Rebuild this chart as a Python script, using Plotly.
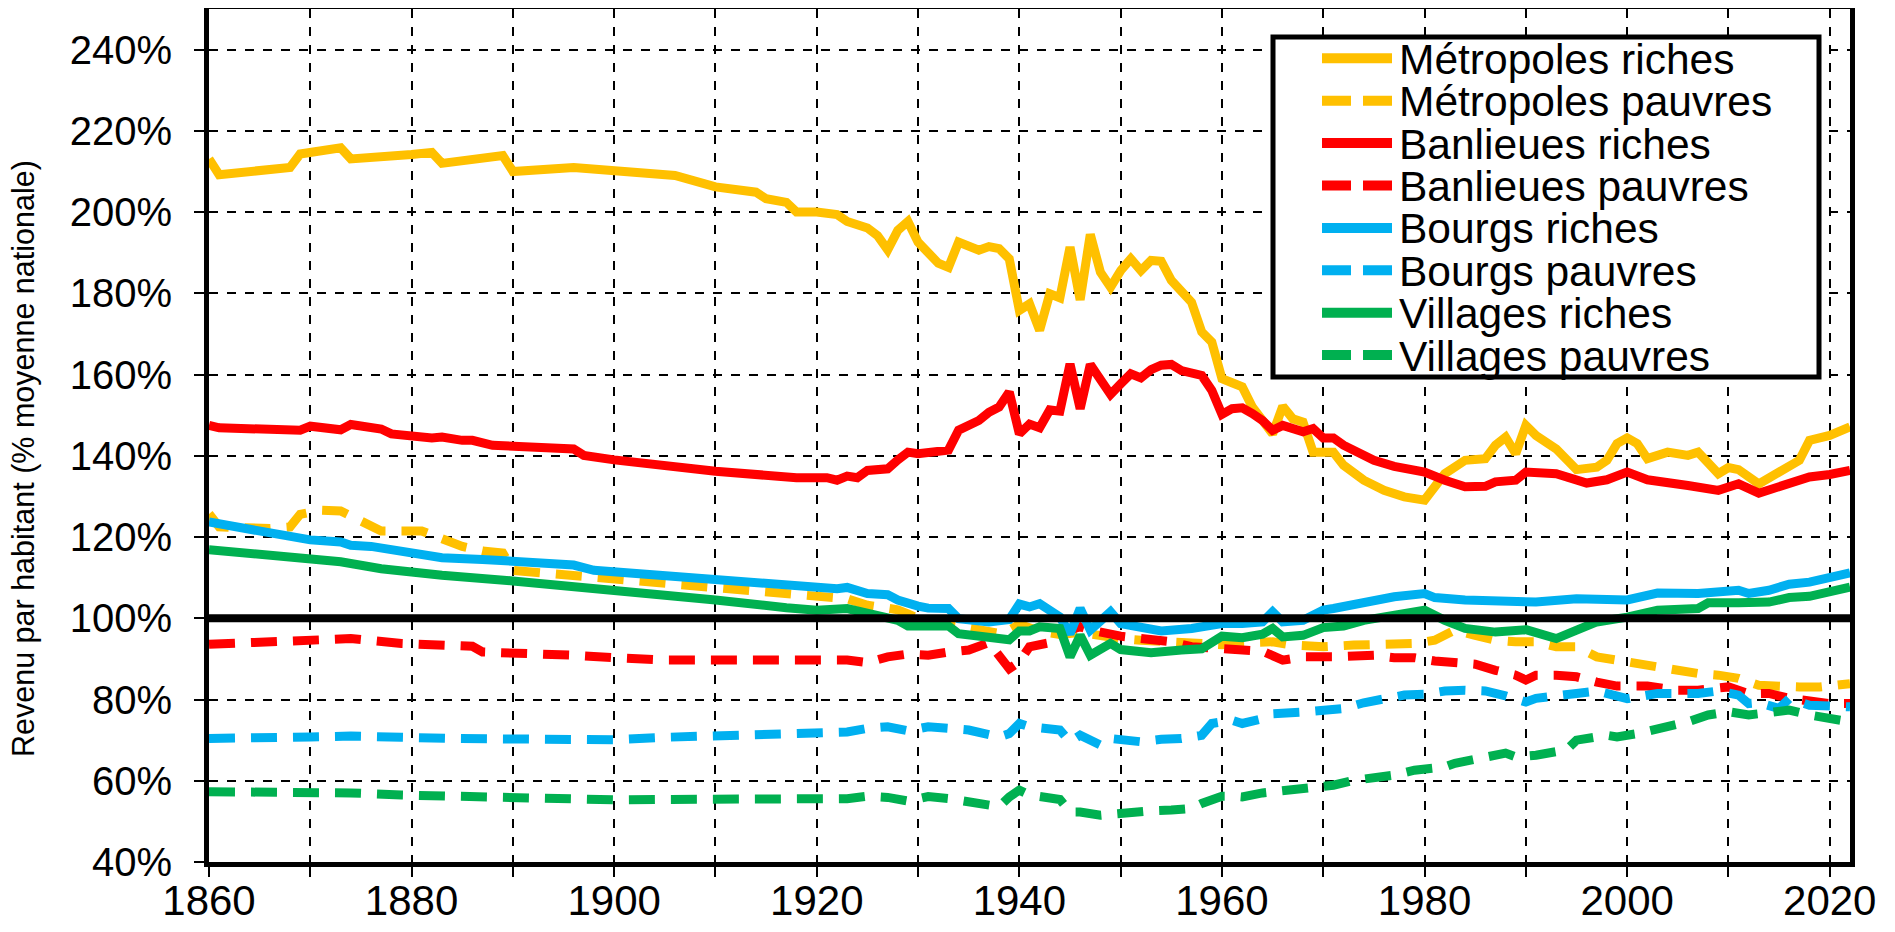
import plotly.graph_objects as go

# ---- data (revenu par habitant, % moyenne nationale) ----
met_riches_x = [1860, 1861, 1868, 1869, 1873, 1874, 1880, 1882, 1883, 1889, 1890, 1896, 1906, 1910,
                1914, 1915, 1917, 1918, 1920, 1922, 1923, 1925, 1926, 1927, 1928, 1929, 1930, 1931,
                1932, 1933, 1934, 1936, 1937, 1938, 1939, 1940, 1941, 1942, 1943, 1944, 1945, 1946,
                1947, 1948, 1949, 1950, 1951, 1952, 1953, 1954, 1955, 1957, 1958, 1959, 1960, 1961,
                1962, 1963, 1965, 1966, 1967, 1968, 1969, 1971, 1972, 1974, 1976, 1978, 1980, 1982,
                1984, 1986, 1987, 1988, 1989, 1990, 1991, 1993, 1994, 1995, 1997, 1998, 1999, 2000,
                2001, 2002, 2004, 2006, 2007, 2009, 2010, 2011, 2013, 2014, 2017, 2018, 2020, 2022]
met_riches_y = [213.1, 209.2, 211.0, 214.3, 215.8, 213.1, 214.2, 214.7, 212.0, 213.9, 210.0, 211.0, 209.0, 206.2,
                204.9, 203.3, 202.4, 200.0, 200.0, 199.4, 197.7, 196.1, 194.2, 190.7, 195.5, 197.7, 192.6, 189.7,
                187.4, 186.4, 192.6, 190.6, 191.5, 191.0, 188.5, 175.8, 177.4, 170.9, 179.9, 178.9, 191.4, 178.4,
                194.5, 185.2, 181.5, 185.6, 188.5, 185.6, 188.1, 187.9, 183.2, 177.8, 170.5, 168.0, 159.0, 158.0,
                157.0, 152.0, 145.4, 152.2, 149.1, 148.3, 140.9, 140.9, 137.7, 134.0, 131.5, 129.9, 129.1, 135.6,
                138.9, 139.3, 142.6, 144.6, 140.5, 147.5, 145.0, 141.7, 139.3, 136.6, 137.2, 138.9, 143.0, 144.4,
                143.0, 139.3, 140.9, 140.1, 140.9, 135.6, 137.1, 136.6, 133.1, 134.4, 138.9, 143.8, 145.0, 147.1]

met_pauvres_x = [1860, 1861, 1866, 1868, 1869, 1871, 1873, 1874, 1876, 1877, 1880, 1881, 1883, 1885, 1887,
                 1889, 1890, 1892, 1894, 1896, 1898, 1900, 1902, 1905, 1907, 1909, 1910, 1917, 1920, 1923,
                 1925, 1928, 1929, 1930, 1932, 1935, 1938, 1939, 1940, 1942, 1944, 1946, 1948, 1950, 1952,
                 1955, 1958, 1960, 1962, 1965, 1967, 1970, 1973, 1976, 1979, 1981, 1983, 1985, 1987, 1989,
                 1991, 1993, 1995, 1997, 1999, 2001, 2003, 2005, 2007, 2009, 2011, 2013, 2015, 2017, 2019, 2022]
met_pauvres_y = [125.7, 122.5, 122.1, 122.5, 125.6, 126.6, 126.4, 125.3, 122.5, 121.5, 121.5, 121.5, 119.6, 117.7, 116.6,
                 116.1, 111.8, 111.4, 110.7, 110.2, 110.0, 109.7, 109.2, 108.5, 108.4, 108.1, 107.7, 106.5, 105.4, 104.8,
                 103.2, 102.1, 101.1, 100.0, 99.0, 97.5, 96.3, 97.1, 98.5, 96.8, 96.0, 96.5, 95.5, 95.0, 94.6,
                 94.0, 93.4, 93.5, 94.0, 94.2, 93.4, 93.0, 93.4, 93.6, 93.8, 94.6, 97.1, 95.8, 94.6, 94.2,
                 94.2, 93.0, 93.0, 90.5, 89.7, 88.5, 88.0, 86.8, 86.4, 86.0, 85.2, 83.5, 83.1, 83.1, 83.1, 83.9]

ban_riches_x = [1860, 1861, 1869, 1870, 1873, 1874, 1877, 1878, 1882, 1883, 1885, 1886, 1888, 1890, 1896,
                1897, 1900, 1910, 1915, 1918, 1921, 1922, 1923, 1924, 1925, 1927, 1928, 1929, 1930, 1933,
                1934, 1936, 1937, 1938, 1939, 1940, 1941, 1942, 1943, 1944, 1945, 1946, 1947, 1948, 1949,
                1950, 1951, 1952, 1953, 1954, 1955, 1956, 1958, 1959, 1960, 1961, 1962, 1963, 1964, 1965,
                1966, 1968, 1969, 1970, 1971, 1972, 1973, 1975, 1977, 1980, 1982, 1984, 1986, 1987, 1989,
                1990, 1993, 1996, 1998, 2000, 2002, 2004, 2006, 2009, 2011, 2013, 2014, 2016, 2018, 2020, 2022]
ban_riches_y = [147.5, 146.9, 146.3, 147.3, 146.4, 147.7, 146.6, 145.4, 144.4, 144.6, 143.8, 143.8, 142.6, 142.3, 141.7,
                140.1, 139.0, 136.2, 135.0, 134.6, 134.6, 134.0, 135.0, 134.6, 136.4, 136.8, 139.0, 140.9, 140.5, 141.4,
                146.3, 148.7, 150.7, 152.0, 155.7, 145.4, 147.8, 146.9, 151.3, 151.0, 162.6, 151.6, 162.5, 158.6, 155.1,
                157.7, 160.2, 159.2, 161.2, 162.3, 162.5, 161.0, 159.8, 156.1, 150.2, 151.6, 151.8, 150.4, 148.7, 146.3,
                147.5, 145.9, 146.7, 144.4, 144.4, 142.6, 141.2, 138.9, 137.4, 136.0, 134.0, 132.4, 132.5, 133.6, 134.0,
                136.0, 135.6, 133.3, 134.1, 136.0, 134.1, 133.6, 132.7, 131.5, 133.1, 130.8, 131.5, 133.1, 134.8, 135.4, 136.4]

ban_pauvres_x = [1860, 1862, 1867, 1870, 1874, 1879, 1884, 1886, 1887, 1892, 1896, 1900, 1905, 1910, 1917,
                 1921, 1923, 1925, 1927, 1929, 1931, 1933, 1935, 1937, 1938, 1939, 1940, 1941, 1943, 1944,
                 1946, 1947, 1950, 1952, 1955, 1957, 1960, 1962, 1964, 1966, 1968, 1971, 1973, 1975, 1977,
                 1979, 1981, 1983, 1985, 1987, 1989, 1990, 1991, 1993, 1995, 1997, 1999, 2002, 2003, 2005,
                 2007, 2010, 2012, 2014, 2016, 2018, 2020, 2022]
ban_pauvres_y = [93.6, 93.8, 94.2, 94.6, 95.0, 93.8, 93.6, 93.1, 91.7, 91.5, 90.9, 90.3, 89.7, 89.7, 89.7,
                 89.5, 89.7, 89.1, 90.5, 91.2, 90.9, 91.7, 92.2, 94.0, 90.5, 87.6, 89.3, 93.0, 94.0, 96.3,
                 97.9, 97.1, 95.6, 95.0, 94.2, 93.0, 92.5, 92.3, 91.9, 89.7, 90.5, 90.5, 90.9, 90.9, 90.3,
                 90.3, 89.5, 89.0, 88.7, 87.2, 86.0, 84.8, 86.0, 86.0, 85.6, 84.3, 83.3, 83.3, 82.9, 82.3,
                 82.3, 83.1, 81.4, 81.5, 80.3, 79.4, 79.0, 79.0]

bourgs_riches_x = [1860, 1869, 1870, 1873, 1874, 1876, 1880, 1882, 1883, 1887, 1890, 1896, 1898, 1900, 1905,
                   1910, 1917, 1922, 1923, 1925, 1927, 1928, 1930, 1931, 1933, 1934, 1937, 1939, 1940, 1941,
                   1942, 1943, 1944, 1945, 1946, 1947, 1949, 1950, 1954, 1957, 1960, 1962, 1964, 1965, 1966,
                   1968, 1970, 1971, 1975, 1977, 1980, 1981, 1984, 1989, 1991, 1995, 2000, 2003, 2007, 2011,
                   2012, 2014, 2016, 2018, 2020, 2022]
bourgs_riches_y = [123.7, 120.2, 119.3, 118.8, 118.0, 117.7, 116.1, 115.8, 114.9, 114.5, 113.9, 113.1, 111.8, 111.4, 110.8,
                   109.3, 108.1, 107.3, 107.6, 106.1, 105.8, 104.5, 103.0, 102.5, 102.4, 99.9, 99.1, 99.7, 103.5, 102.8,
                   103.6, 101.6, 100.3, 96.2, 102.4, 97.1, 101.6, 98.7, 96.9, 97.5, 98.7, 98.7, 99.1, 101.6, 99.1,
                   99.5, 102.0, 102.4, 104.3, 105.3, 106.1, 105.1, 104.5, 104.0, 104.0, 104.8, 104.5, 106.2, 106.1, 106.9,
                   106.1, 106.9, 108.4, 108.9, 110.3, 111.2]

bourgs_pauvres_x = [1860, 1866, 1870, 1874, 1877, 1879, 1884, 1892, 1896, 1900, 1905, 1910, 1913, 1916, 1920,
                    1923, 1925, 1927, 1929, 1931, 1933, 1935, 1938, 1939, 1940, 1941, 1944, 1945, 1946, 1947,
                    1948, 1949, 1952, 1954, 1956, 1958, 1959, 1961, 1962, 1964, 1965, 1968, 1970, 1972, 1974,
                    1976, 1978, 1980, 1982, 1984, 1986, 1988, 1990, 1991, 1993, 1995, 1997, 1999, 2000, 2003,
                    2005, 2007, 2009, 2011, 2012, 2013, 2015, 2016, 2018, 2020, 2022]
bourgs_pauvres_y = [70.4, 70.4, 70.8, 71.0, 71.0, 70.7, 70.4, 70.4, 70.0, 70.1, 70.7, 71.0, 71.2, 71.5, 71.6,
                    72.0, 72.9, 73.3, 72.3, 73.3, 72.9, 72.5, 70.8, 71.6, 74.1, 73.3, 72.5, 69.6, 71.2, 70.0,
                    68.8, 70.4, 69.6, 70.2, 70.4, 71.2, 74.1, 74.9, 74.1, 75.3, 76.5, 76.9, 77.4, 77.8, 79.2,
                    80.2, 81.1, 81.3, 82.1, 82.3, 82.1, 80.9, 79.4, 80.3, 81.1, 81.5, 82.1, 81.1, 80.2, 81.5,
                    81.5, 81.5, 82.1, 81.1, 79.0, 79.2, 77.8, 80.2, 78.6, 78.4, 78.2]

vill_riches_x = [1860, 1870, 1873, 1877, 1880, 1883, 1890, 1896, 1900, 1910, 1917, 1920, 1923, 1925, 1928,
                 1929, 1933, 1934, 1937, 1939, 1940, 1941, 1942, 1944, 1945, 1946, 1947, 1949, 1950, 1953,
                 1956, 1958, 1960, 1962, 1964, 1965, 1966, 1968, 1970, 1972, 1974, 1980, 1982, 1984, 1987,
                 1990, 1993, 1995, 1997, 2000, 2003, 2007, 2008, 2011, 2014, 2016, 2018, 2022]
vill_riches_y = [116.9, 114.9, 113.9, 112.2, 111.2, 110.6, 109.2, 107.9, 106.5, 104.5, 102.6, 102.0, 102.4, 101.3, 99.5,
                 98.1, 98.1, 96.2, 95.6, 94.7, 96.9, 96.9, 97.9, 97.5, 90.5, 95.8, 90.9, 93.8, 92.3, 91.5,
                 92.2, 92.5, 95.6, 95.2, 96.1, 97.5, 95.4, 95.8, 97.7, 98.1, 99.5, 102.0, 99.5, 97.5, 96.6,
                 97.2, 95.0, 97.1, 99.1, 100.3, 102.0, 102.4, 103.8, 103.8, 104.0, 105.1, 105.4, 107.7]

vill_pauvres_x = [1860, 1866, 1870, 1874, 1879, 1884, 1887, 1892, 1896, 1900, 1905, 1913, 1917, 1921, 1923,
                  1925, 1927, 1929, 1931, 1933, 1935, 1938, 1939, 1940, 1941, 1943, 1944, 1945, 1946, 1948,
                  1950, 1953, 1955, 1957, 1958, 1960, 1961, 1962, 1964, 1967, 1969, 1971, 1973, 1975, 1977,
                  1979, 1982, 1983, 1986, 1987, 1988, 1989, 1991, 1994, 1995, 1998, 1999, 2001, 2004, 2006,
                  2008, 2010, 2012, 2014, 2016, 2018, 2020, 2022]
vill_pauvres_y = [57.3, 57.3, 57.5, 57.0, 56.5, 56.2, 56.0, 55.6, 55.3, 55.3, 55.4, 55.4, 55.4, 55.3, 55.6,
                  56.2, 55.9, 55.0, 56.1, 55.6, 54.8, 53.6, 56.0, 57.7, 56.5, 55.4, 55.4, 52.3, 52.3, 51.5,
                  52.1, 52.6, 52.8, 53.2, 54.4, 56.2, 56.2, 56.0, 57.0, 57.7, 58.1, 58.9, 60.1, 60.5, 61.4,
                  62.6, 63.4, 64.3, 65.5, 66.3, 66.8, 65.9, 66.3, 67.6, 70.0, 71.2, 70.8, 71.6, 73.3, 74.5,
                  76.2, 77.0, 76.2, 77.0, 77.4, 76.2, 75.3, 74.5]

series_names = ["Métropoles riches", "Métropoles pauvres", "Banlieues riches", "Banlieues pauvres",
                "Bourgs riches", "Bourgs pauvres", "Villages riches", "Villages pauvres"]
series_x = [met_riches_x, met_pauvres_x, ban_riches_x, ban_pauvres_x,
            bourgs_riches_x, bourgs_pauvres_x, vill_riches_x, vill_pauvres_x]
series_y = [met_riches_y, met_pauvres_y, ban_riches_y, ban_pauvres_y,
            bourgs_riches_y, bourgs_pauvres_y, vill_riches_y, vill_pauvres_y]

y_ticks = [40, 60, 80, 100, 120, 140, 160, 180, 200, 220, 240]
y_ticklabels = ["40%", "60%", "80%", "100%", "120%", "140%", "160%", "180%", "200%", "220%", "240%"]
x_ticks = list(range(1860, 2030, 10))
x_ticklabels = ["1860", "", "1880", "", "1900", "", "1920", "", "1940", "", "1960", "",
                "1980", "", "2000", "", "2020"]
y_title = "Revenu par habitant (% moyenne nationale)"

# ---- style ----
FONT = "Arial, Liberation Sans, sans-serif"
colors = ["#FFC000", "#FFC000", "#FF0000", "#FF0000", "#00B0F0", "#00B0F0", "#00B050", "#00B050"]
DASH = "26px,16px"
dashes = ["solid", DASH] * 4

# the page body has an 8px margin: the figure sits at (8, 8)
OFF = 8
FIG_W, FIG_H = 1895 - 2 * OFF, 932 - 2 * OFF

fig = go.Figure()
for name, xs, ys, c, d in zip(series_names, series_x, series_y, colors, dashes):
    fig.add_trace(go.Scatter(x=xs, y=ys, mode="lines", name=name, showlegend=False,
                             line=dict(color=c, width=9, dash=d)))

# thick reference line at 100 %
fig.add_shape(type="line", xref="paper", x0=0, x1=1, yref="y", y0=100, y1=100,
              line=dict(color="black", width=8), layer="above")

# legend drawn by hand (Excel-like compact box); positions in page pixels
L, B, W, H = 209, 862, 1641, 853
def px(x):
    return (x - L) / W
def py(y):
    return (B - y) / H

fig.add_shape(type="rect", xref="paper", yref="paper", x0=px(1273), x1=px(1819), y0=py(377), y1=py(37),
              line=dict(color="black", width=5), fillcolor="white", layer="above")
for i, (name, c, d) in enumerate(zip(series_names, colors, dashes)):
    yy = 58.3 + i * 42.4
    fig.add_shape(type="line", xref="paper", yref="paper", x0=px(1322), x1=px(1392), y0=py(yy), y1=py(yy),
                  line=dict(color=c, width=10, dash="solid" if d == "solid" else "29px,12px"), layer="above")
    fig.add_annotation(text=name, xref="paper", yref="paper", x=px(1397), y=py(yy + 1),
                       xanchor="left", yanchor="middle", showarrow=False,
                       font=dict(family=FONT, size=42.5, color="black"))

fig.add_annotation(text=y_title, xref="paper", yref="paper", x=px(23), y=py(459), textangle=-90,
                   xanchor="center", yanchor="middle", showarrow=False,
                   font=dict(family=FONT, size=30.5, color="black"))

fig.update_layout(
    width=FIG_W, height=FIG_H,
    margin=dict(l=L - OFF, r=FIG_W + OFF - (L + W), t=B - H - OFF, b=FIG_H + OFF - B, autoexpand=False),
    plot_bgcolor="white", paper_bgcolor="white",
    font=dict(family=FONT, size=42, color="black"),
    showlegend=False,
)
fig.update_xaxes(range=[1860, 2022], tickvals=x_ticks, ticktext=x_ticklabels, automargin=False,
                 showgrid=True, gridcolor="black", gridwidth=2, griddash="dash",
                 showline=True, linecolor="black", linewidth=5, mirror=True,
                 ticks="outside", ticklen=10, tickwidth=2, tickcolor="black",
                 ticklabelstandoff=-12, zeroline=False)
fig.update_yaxes(range=[40, 250], tickvals=y_ticks, ticktext=y_ticklabels, automargin=False,
                 tickfont=dict(size=40),
                 showgrid=True, gridcolor="black", gridwidth=2, griddash="dash",
                 showline=True, linecolor="black", linewidth=5, mirror=True,
                 ticks="outside", ticklen=10, tickwidth=2, tickcolor="black",
                 ticklabelstandoff=14, zeroline=False)

fig.write_html("out.html")
